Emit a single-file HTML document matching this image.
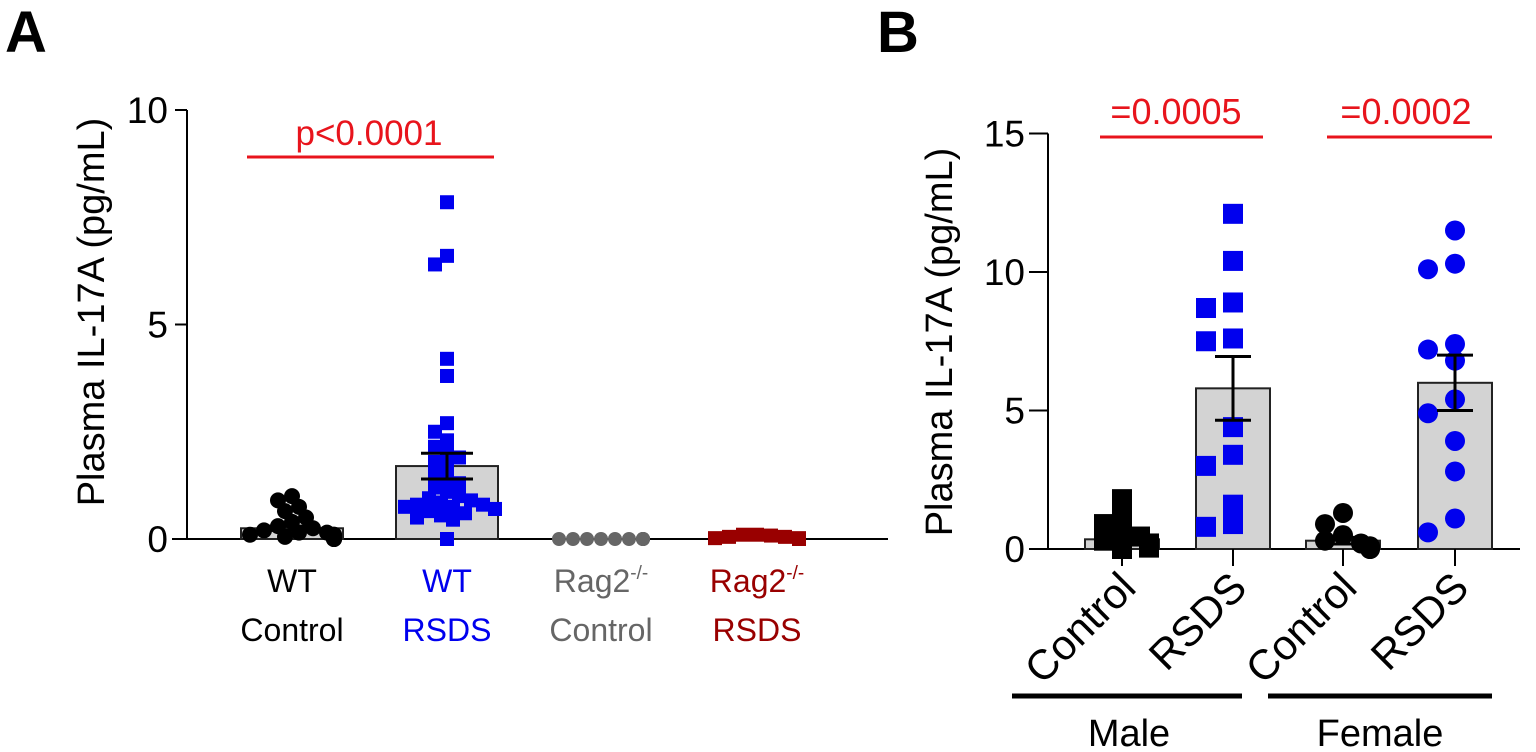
<!DOCTYPE html>
<html><head><meta charset="utf-8"><style>
html,body{margin:0;padding:0;background:#fff}
svg{display:block;font-family:"Liberation Sans",Arial,sans-serif}
</style></head><body>
<svg id="fig" width="1536" height="752" viewBox="0 0 1536 752"></svg>
<script>
// Panel A data
const catsA = ["WT Control","WT RSDS","Rag2 Control","Rag2 RSDS"];
const meanA = [0.25, 1.7, 0, 0.02];
const semA = [0.05, 0.3, 0, 0];
const wtControl = [1.0,0.9,0.75,0.65,0.5,0.4,0.3,0.25,0.2,0.15,0.15,0.1,0.1,0.1,0.05,0.05,0.05,0,0,0,0,0,0,0];
const wtRsds = [7.85,6.6,6.4,4.2,3.8,2.7,2.5,2.3,2.15,2.0,1.9,1.8,1.7,1.5,1.4,1.3,1.2,1.1,1.0,0.95,0.9,0.85,0.8,0.8,0.75,0.75,0.7,0.7,0.65,0.6,0.55,0.5,0.45,0.0];
const ragControl = [0,0,0,0,0,0,0,0,0,0,0];
const ragRsds = [0.1,0.1,0.08,0.05,0.05,0.02,0.02,0,0,0,0];
const ticksA = [0,5,10];
// Panel B data
const catsB = ["Control","RSDS","Control","RSDS"];
const meanB = [0.35, 5.8, 0.3, 6.0];
const semB = [0.1, 1.15, 0.12, 1.0];
const maleControl = [1.8,1.2,0.9,0.6,0.45,0.3,0.2,0.1,0.05,0];
const maleRsds = [12.1,10.4,8.9,8.7,7.6,7.5,4.4,3.4,3.0,1.6,0.9,0.8];
const femaleControl = [1.3,0.9,0.5,0.3,0.2,0.1,0.05,0,0];
const femaleRsds = [11.5,10.3,10.1,7.4,7.2,6.8,5.4,4.9,3.9,2.8,1.1,0.6];
const ticksB = [0,5,10,15];

const NS="http://www.w3.org/2000/svg";
const svg=document.getElementById('fig');
function el(tag,attrs,parent){const e=document.createElementNS(NS,tag);for(const k in attrs)e.setAttribute(k,attrs[k]);(parent||svg).appendChild(e);return e;}
function txt(s,attrs,parent){const e=el('text',attrs,parent);e.textContent=s;return e;}

function swarm(vals,yf,r,maxW,step){
  const placed=[];const out=[];
  vals.forEach(v=>{const y=yf(v);let best=0;
    for(let k=0;k<60;k++){const dx=(k%2?-1:1)*Math.ceil(k/2)*step;
      if(Math.abs(dx)>maxW){continue;}
      if(placed.every(p=>Math.hypot(p[0]-dx,p[1]-y)>=r*1.6)){best=dx;break;}
      best=dx;}
    placed.push([best,y]);out.push(best);});
  return out;
}

// ===== Panel A =====
const yA=v=>539-v*42.9;
const xA=[292,447,601,757];
txt('A',{x:5,y:52,'font-size':58,'font-weight':'bold',});
const gA=el('g',{});
el('line',{x1:187,y1:yA(10),x2:187,y2:540,stroke:'#000','stroke-width':2,},gA);
el('line',{x1:172,y1:539,x2:888,y2:539,stroke:'#000','stroke-width':2,},gA);
ticksA.forEach(t=>{
  const l=el('line',{x1:175,y1:yA(t),x2:187,y2:yA(t),stroke:'#000','stroke-width':2},gA);
  
  const s=txt(String(t),{x:168,y:yA(t)+13,'font-size':37,'text-anchor':'end'},gA);
  
});
txt('Plasma IL-17A (pg/mL)',{transform:'translate(104,312) rotate(-90)','font-size':38,'text-anchor':'middle',},gA);
meanA.forEach((m,i)=>{if(m<=0.05)return;
  const b=el('rect',{x:xA[i]-51,y:yA(m),width:102,height:539-yA(m),fill:'#d3d3d3',stroke:'#222','stroke-width':2},gA);
  });
function drawPts(g,vals,cx,yf,shape,color,r,maxW,step,name){
  const offs=swarm(vals,yf,r,maxW,step);
  vals.forEach((v,i)=>{let e;const x=cx+offs[i],y=yf(v);
    if(shape==='sq')e=el('rect',{x:x-r,y:y-r,width:2*r,height:2*r,fill:color},g);
    else e=el('circle',{cx:x,cy:y,r:r,fill:color},g);
    });
}
drawPts(gA,wtControl,xA[0],yA,'c','#000',8,46,7,'wt-control-point');
drawPts(gA,wtRsds,xA[1],yA,'sq','#0000ee',7,50,6,'wt-rsds-point');
drawPts(gA,ragControl,xA[2],yA,'c','#666',7,46,7,'rag2-control-point');
drawPts(gA,ragRsds,xA[3],yA,'sq','#990000',7,46,7,'rag2-rsds-point');
function errbar(g,cx,m,s,yf,hw,name){
  const e=el('g',{},g);
  el('line',{x1:cx,y1:yf(m+s),x2:cx,y2:yf(m-s),stroke:'#000','stroke-width':3},e);
  el('line',{x1:cx-hw,y1:yf(m+s),x2:cx+hw,y2:yf(m+s),stroke:'#000','stroke-width':3},e);
  el('line',{x1:cx-hw,y1:yf(m-s),x2:cx+hw,y2:yf(m-s),stroke:'#000','stroke-width':3},e);
}
errbar(gA,xA[1],meanA[1],semA[1],yA,26,'wt-rsds-error-bar');
errbar(gA,xA[0],meanA[0],semA[0],yA,26,'wt-control-error-bar');
const labA=[['WT','Control','#000',''],['WT','RSDS','#0000ee',''],['Rag2','Control','#666','-/-'],['Rag2','RSDS','#990000','-/-']];
labA.forEach((l,i)=>{const t=txt('',{x:xA[i],y:592,'font-size':32,'text-anchor':'middle',fill:l[2]},gA);
  
  const a=document.createElementNS(NS,'tspan');a.textContent=l[0];t.appendChild(a);
  if(l[3]){const s=document.createElementNS(NS,'tspan');s.setAttribute('font-size',19);s.setAttribute('dy',-13);s.textContent=l[3];t.appendChild(s);}
  const t2=txt(l[1],{x:xA[i],y:641,'font-size':32,'text-anchor':'middle',fill:l[2]},gA);
  });
el('line',{x1:247,y1:157,x2:494,y2:157,stroke:'#e8141c','stroke-width':3,},gA);
txt('p<0.0001',{x:369,y:145,'font-size':35,'text-anchor':'middle',fill:'#e8141c',},gA);

// ===== Panel B =====
const yB=v=>549-v*27.7;
const xB=[1122,1233,1343,1455];
txt('B',{x:877,y:52,'font-size':58,'font-weight':'bold',});
const gB=el('g',{});
el('line',{x1:1048,y1:yB(15),x2:1048,y2:550,stroke:'#000','stroke-width':2,},gB);
el('line',{x1:1029,y1:549,x2:1520,y2:549,stroke:'#000','stroke-width':2,},gB);
ticksB.forEach(t=>{
  const l=el('line',{x1:1029,y1:yB(t),x2:1048,y2:yB(t),stroke:'#000','stroke-width':2},gB);
  
  const s=txt(String(t),{x:1025,y:yB(t)+13,'font-size':37,'text-anchor':'end'},gB);
  
});
txt('Plasma IL-17A (pg/mL)',{transform:'translate(952,342) rotate(-90)','font-size':38,'text-anchor':'middle',},gB);
meanB.forEach((m,i)=>{
  const b=el('rect',{x:xB[i]-37,y:yB(m),width:74,height:549-yB(m),fill:'#d3d3d3',stroke:'#222','stroke-width':2},gB);
  
  const tk=el('line',{x1:xB[i],y1:549,x2:xB[i],y2:566,stroke:'#000','stroke-width':2},gB);
  });
drawPts(gB,maleControl,xB[0],yB,'sq','#000',10,34,9,'male-control-point');
drawPts(gB,maleRsds,xB[1],yB,'sq','#0000ee',10,28,27,'male-rsds-point');
drawPts(gB,femaleControl,xB[2],yB,'c','#000',10,34,9,'female-control-point');
drawPts(gB,femaleRsds,xB[3],yB,'c','#0000ee',10,28,27,'female-rsds-point');
meanB.forEach((m,i)=>errbar(gB,xB[i],m,semB[i],yB,18,'panel-b-error-bar'));
catsB.forEach((c,i)=>{const t=txt(c,{transform:`translate(${xB[i]+16},590) rotate(-45)`,'font-size':42,'text-anchor':'end'},gB);
  });
el('line',{x1:1012,y1:696,x2:1242,y2:696,stroke:'#000','stroke-width':5,},gB);
el('line',{x1:1268,y1:696,x2:1492,y2:696,stroke:'#000','stroke-width':5,},gB);
txt('Male',{x:1129,y:746,'font-size':38,'text-anchor':'middle',},gB);
txt('Female',{x:1380,y:746,'font-size':38,'text-anchor':'middle',},gB);
el('line',{x1:1100,y1:137,x2:1263,y2:137,stroke:'#e8141c','stroke-width':3,},gB);
txt('=0.0005',{x:1176,y:124,'font-size':36,'text-anchor':'middle',fill:'#e8141c',},gB);
el('line',{x1:1327,y1:137,x2:1492,y2:137,stroke:'#e8141c','stroke-width':3,},gB);
txt('=0.0002',{x:1406,y:124,'font-size':36,'text-anchor':'middle',fill:'#e8141c',},gB);
</script>
</body></html>
